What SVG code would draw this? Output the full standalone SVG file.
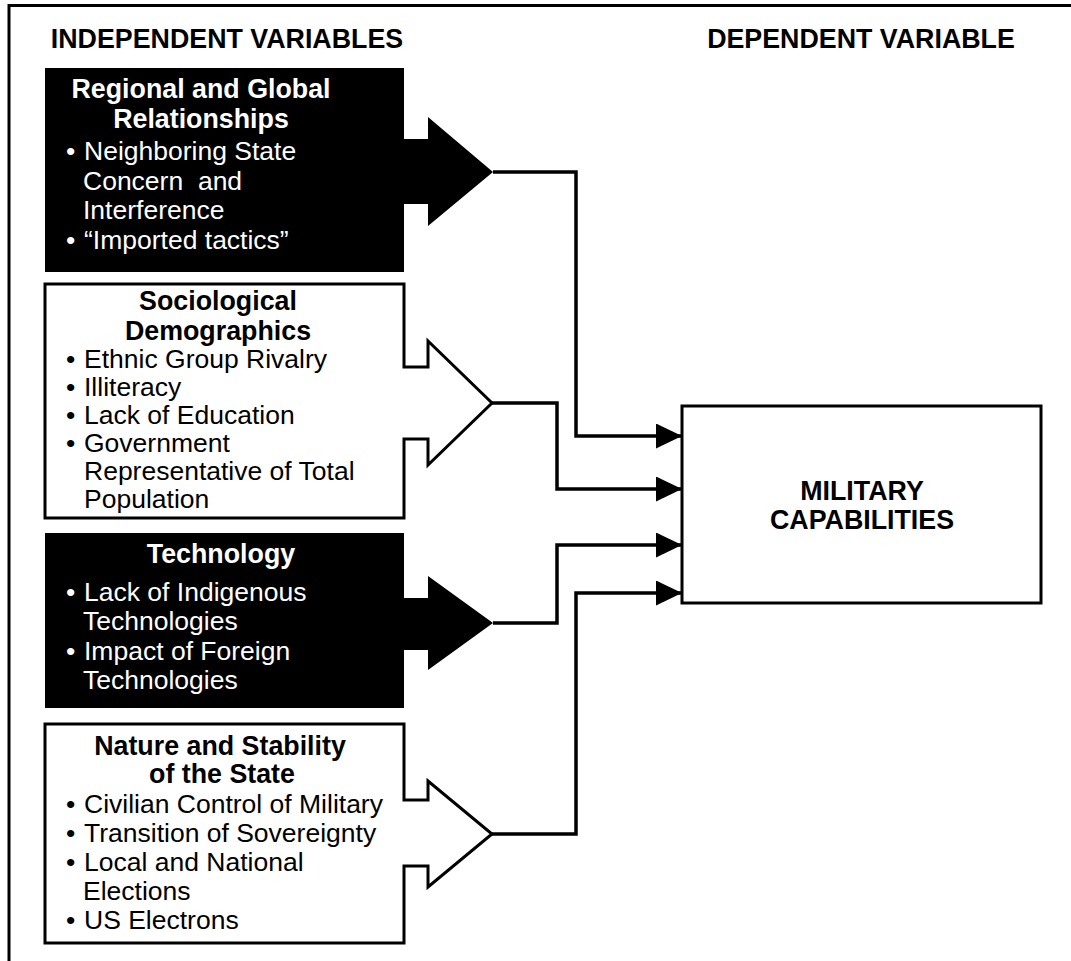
<svg xmlns="http://www.w3.org/2000/svg" width="1071" height="961" viewBox="0 0 1071 961">
  <style>
    text { font-family: "Liberation Sans", Arial, Helvetica, sans-serif; font-size: 26.5px; }
    .head { font-weight: bold; font-size: 26.8px; text-anchor: middle; }
    .w { fill: #ffffff; }
    .k { fill: #000000; }
    .boxw { fill: #ffffff; stroke: #000000; stroke-width: 3; stroke-linejoin: miter; }
    .boxk { fill: #000000; stroke: none; }
    .wire { fill: none; stroke: #000000; stroke-width: 3.5; stroke-linejoin: miter; }
  </style>
  <defs>
    <marker id="head" markerUnits="userSpaceOnUse" markerWidth="28" markerHeight="26" refX="26" refY="12.5" orient="auto">
      <path d="M0,0 L26,12.5 L0,25 Z" fill="#000000"/>
    </marker>
  </defs>

  <rect x="0" y="0" width="1071" height="961" fill="#ffffff"/>

  <!-- outer frame: top rule and left rule only -->
  <g id="frame" fill="none" stroke="#000000" stroke-width="3">
    <path d="M9,961 V5.5 H1071"/>
  </g>

  <!-- column headings -->
  <text class="head" x="227" y="48">INDEPENDENT VARIABLES</text>
  <text class="head" x="861" y="48">DEPENDENT VARIABLE</text>

  <!-- Regional and Global Relationships -->
  <g id="regional">
    <path class="boxk" d="M45,68 H404 V139 H428 V117 L493,172 L428,226 V204 H404 V272 H45 Z"/>
    <text class="head w" x="201" y="98">Regional and Global</text>
    <text class="head w" x="201" y="128">Relationships</text>
    <text class="w" x="66" y="160">•</text>
    <text class="w" x="84" y="160">Neighboring State</text>
    <text class="w" x="83" y="190" xml:space="preserve">Concern  and</text>
    <text class="w" x="83" y="219">Interference</text>
    <text class="w" x="66" y="249">•</text>
    <text class="w" x="84" y="249">“Imported tactics”</text>
  </g>

  <!-- Sociological Demographics -->
  <g id="sociological">
    <path class="boxw" d="M45,284 H404 V367 H428 V341 L492,403 L428,465 V439 H404 V518 H45 Z"/>
    <text class="head k" x="218" y="310">Sociological</text>
    <text class="head k" x="218" y="340">Demographics</text>
    <text class="k" x="66" y="368">•</text>
    <text class="k" x="84" y="368">Ethnic Group Rivalry</text>
    <text class="k" x="66" y="396">•</text>
    <text class="k" x="84" y="396">Illiteracy</text>
    <text class="k" x="66" y="424">•</text>
    <text class="k" x="84" y="424">Lack of Education</text>
    <text class="k" x="66" y="452">•</text>
    <text class="k" x="84" y="452">Government</text>
    <text class="k" x="84" y="480">Representative of Total</text>
    <text class="k" x="84" y="508">Population</text>
  </g>

  <!-- Technology -->
  <g id="technology">
    <path class="boxk" d="M45,533 H404 V598 H428 V576 L493,623 L428,670 V650 H404 V708 H45 Z"/>
    <text class="head w" x="221" y="563">Technology</text>
    <text class="w" x="66" y="601">•</text>
    <text class="w" x="84" y="601">Lack of Indigenous</text>
    <text class="w" x="83" y="630">Technologies</text>
    <text class="w" x="66" y="660">•</text>
    <text class="w" x="84" y="660">Impact of Foreign</text>
    <text class="w" x="83" y="689">Technologies</text>
  </g>

  <!-- Nature and Stability of the State -->
  <g id="nature">
    <path class="boxw" d="M45,724 H404 V800 H428 V781 L492,834 L428,887 V866 H404 V943 H45 Z"/>
    <text class="head k" x="220" y="755">Nature and Stability</text>
    <text class="head k" x="222" y="783">of the State</text>
    <text class="k" x="66" y="813">•</text>
    <text class="k" x="84" y="813">Civilian Control of Military</text>
    <text class="k" x="66" y="842">•</text>
    <text class="k" x="84" y="842">Transition of Sovereignty</text>
    <text class="k" x="66" y="871">•</text>
    <text class="k" x="84" y="871">Local and National</text>
    <text class="k" x="83" y="900">Elections</text>
    <text class="k" x="66" y="929">•</text>
    <text class="k" x="84" y="929">US Electrons</text>
  </g>

  <!-- Military Capabilities -->
  <g id="military">
    <rect class="boxw" x="682" y="406" width="359" height="197"/>
    <text class="head k" x="862" y="500">MILITARY</text>
    <text class="head k" x="862" y="529">CAPABILITIES</text>
  </g>

  <!-- connectors into Military Capabilities -->
  <g id="connectors">
    <path class="wire" d="M493,172 H576 V436 H682" marker-end="url(#head)"/>
    <path class="wire" d="M492,403 H557 V489 H682" marker-end="url(#head)"/>
    <path class="wire" d="M493,623 H557 V545 H682" marker-end="url(#head)"/>
    <path class="wire" d="M492,834 H576 V593 H682" marker-end="url(#head)"/>
  </g>
</svg>
